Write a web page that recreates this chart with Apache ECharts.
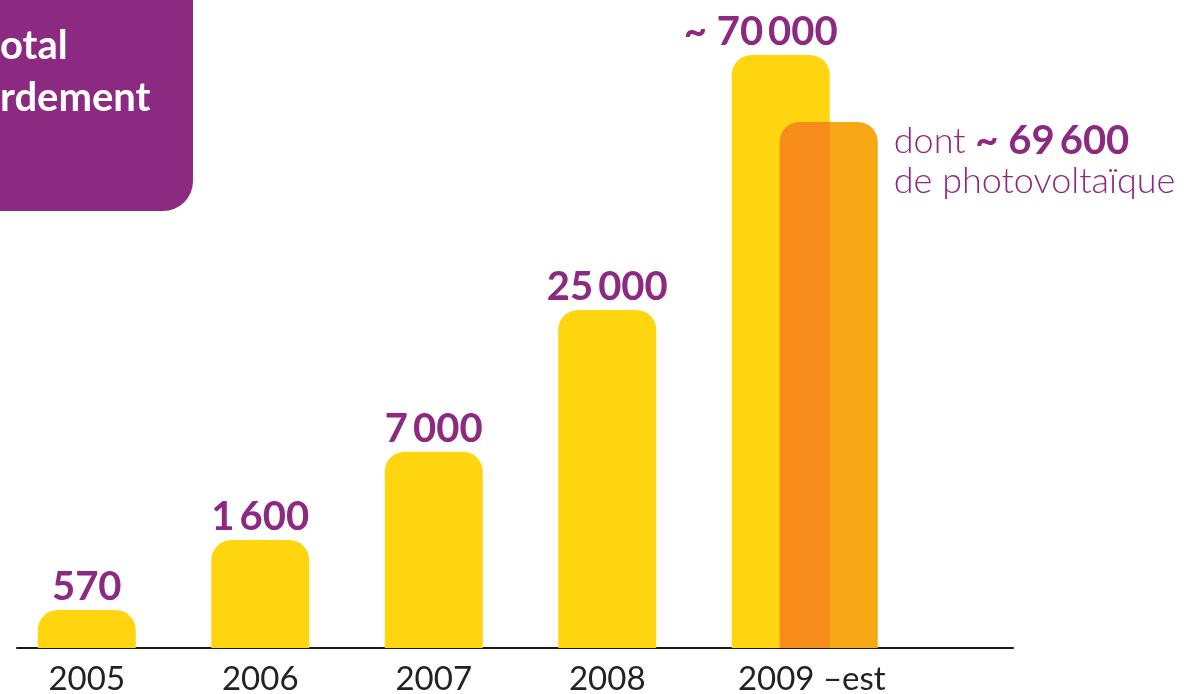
<!DOCTYPE html>
<html><head><meta charset="utf-8">
<script src="https://cdn.jsdelivr.net/npm/echarts@6/dist/echarts.min.js"></script>
<style>html,body{margin:0;padding:0;background:#fff}#c{width:1186px;height:694px}</style>
</head><body><div id="c"></div>
<script>
// ---- data ----
const years = ['2005', '2006', '2007', '2008', '2009'];
const yearSuffix = ['', '', '', '', ' –est'];
const connections = [570, 1600, 7000, 25000, 70000];
const approx = [false, false, false, false, true];
const photovoltaic2009 = 69600;
// Infographic is not drawn to scale: heights as drawn, index (2009 total = 100)
const drawnHeights = [6.4, 18.2, 33.1, 57.0, 100];
const drawnHeightPV = 88.7;
const titleLines = ['otal', 'rdement'];
const pvText = ['dont ', 'de photovoltaïque'];

// ---- styles ----
const PURPLE = '#8C2980';
const YELLOW = '#FFD50F';
const ORANGE = '#F6A814';
const OVERLAP = '#F68C1A';
const BAR_W = 98;
const FONT = 'Lato, "Open Sans", sans-serif';

function fmt(v) { return String(v).replace(/\B(?=(\d{3})+(?!\d))/g, '\u2009'); }

const chart = echarts.init(document.getElementById('c'), null, { renderer: 'canvas' });

const option = {
  animation: false,
  backgroundColor: '#fff',
  grid: [
    { left: 0, right: 318.5, top: 55, bottom: 46, containLabel: false, outerBoundsMode: 'none' },
    { left: 17, right: 173, top: 0, bottom: 46, containLabel: false, outerBoundsMode: 'none' }
  ],
  xAxis: [
    {
      type: 'category', gridIndex: 0,
      data: years.map((y, i) => yearSuffix[i] ? { value: y, textStyle: { padding: [0, 0, 0, 62] } } : y),
      axisLine: { show: false }, axisTick: { show: false },
      axisLabel: {
        interval: 0,
        formatter: (v, i) => v + yearSuffix[i],
        color: '#222', fontSize: 33, fontFamily: FONT, margin: 15
      }
    },
    {
      type: 'value', gridIndex: 1, min: 0, max: 1,
      axisLine: { show: true, lineStyle: { color: '#1a1a1a', width: 2 } },
      axisTick: { show: false }, axisLabel: { show: false }, splitLine: { show: false }
    }
  ],
  yAxis: [
    { type: 'value', gridIndex: 0, min: 0, max: 100, show: false },
    { type: 'value', gridIndex: 1, min: 0, max: 1, show: false }
  ],
  series: [
    {
      type: 'bar', xAxisIndex: 0, yAxisIndex: 0, z: 2,
      barWidth: BAR_W,
      data: drawnHeights.map((h, i) => approx[i] ? { value: h, label: { offset: [-20, 0] } } : h),
      itemStyle: { color: YELLOW, borderRadius: [20, 20, 0, 0] },
      label: {
        show: true, position: 'top', distance: 3,
        formatter: p => (approx[p.dataIndex] ? '~ ' : '') + fmt(connections[p.dataIndex]),
        color: PURPLE, fontSize: 40, fontWeight: 'bold', fontFamily: FONT
      }
    },
    {
      type: 'custom', xAxisIndex: 0, yAxisIndex: 0, z: 3,
      data: [[4, drawnHeightPV, photovoltaic2009]],
      encode: { x: 0, y: 1 },
      renderItem: function (params, api) {
        const top = api.coord([api.value(0), api.value(1)]);
        const base = api.coord([api.value(0), 0]);
        const half = BAR_W / 2;
        const shift = BAR_W * 0.49;
        const x0 = top[0] + shift - half;
        const x1 = top[0] + shift + half;
        const yellowRight = top[0] + half;
        const h = base[1] - top[1];
        return {
          type: 'group',
          children: [
            { type: 'rect', shape: { x: x0, y: top[1], width: BAR_W, height: h, r: [20, 20, 0, 0] }, style: { fill: ORANGE } },
            { type: 'rect', shape: { x: x0, y: top[1], width: yellowRight - x0, height: h, r: [20, 0, 0, 0] }, style: { fill: OVERLAP } },
            {
              type: 'text', x: x1 + 16, y: top[1] - 1,
              style: {
                text: '{r|' + pvText[0] + '}{b|~ ' + fmt(api.value(2)) + '}\n{r|' + pvText[1] + '}',
                rich: {
                  r: { fill: PURPLE, fontSize: 36, fontFamily: FONT, fontWeight: 300, lineHeight: 40 },
                  b: { fill: PURPLE, fontSize: 40, fontFamily: FONT, fontWeight: 'bold', lineHeight: 40 }
                },
                verticalAlign: 'top', align: 'left'
              }
            }
          ]
        };
      }
    }
  ],
  graphic: [
    { type: 'rect', shape: { x: -40, y: -40, width: 233, height: 251, r: 30 }, style: { fill: PURPLE }, z: 1 },
    { type: 'text', x: 0, y: 26, style: { text: titleLines[0], fill: '#fff', font: 'bold 40px ' + FONT, verticalAlign: 'top' }, z: 2 },
    { type: 'text', x: 0, y: 78, style: { text: titleLines[1], fill: '#fff', font: 'bold 40px ' + FONT, verticalAlign: 'top' }, z: 2 }
  ]
};
chart.setOption(option);
</script>
</body></html>
